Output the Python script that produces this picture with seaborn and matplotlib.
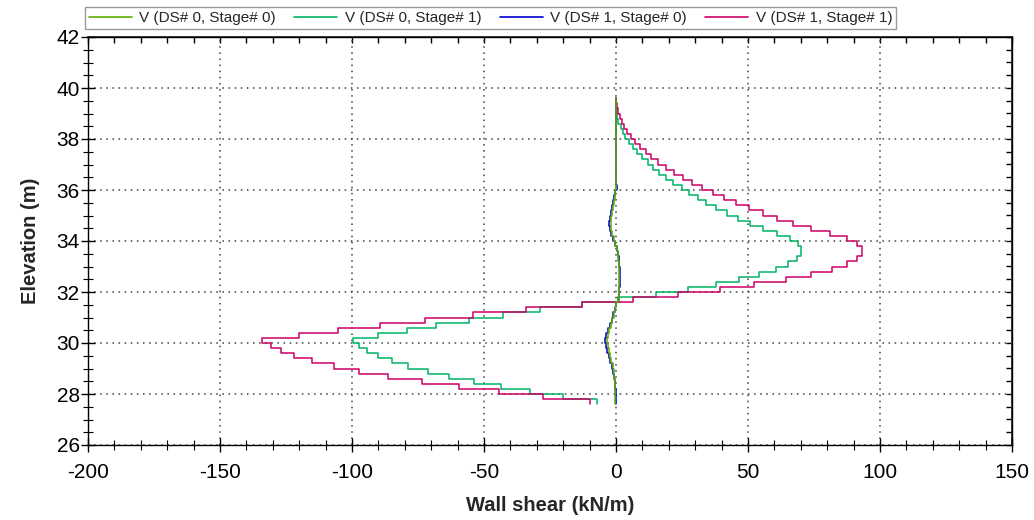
import numpy as np
import pandas as pd
import matplotlib
matplotlib.use("Agg")
import matplotlib.pyplot as plt
import seaborn as sns

# Elevation nodes (m), top of wall to toe; each curve has one shear value per interval
elev_nodes = [39.6, 39.4, 39.2, 39.0, 38.8, 38.6, 38.4, 38.2, 38.0, 37.8,
              37.6, 37.4, 37.2, 37.0, 36.8, 36.6, 36.4, 36.2, 36.0, 35.8,
              35.6, 35.4, 35.2, 35.0, 34.8, 34.6, 34.4, 34.2, 34.0, 33.8,
              33.6, 33.4, 33.2, 33.0, 32.8, 32.6, 32.4, 32.2, 32.0, 31.8,
              31.6, 31.4, 31.2, 31.0, 30.8, 30.6, 30.4, 30.2, 30.0, 29.8,
              29.6, 29.4, 29.2, 29.0, 28.8, 28.6, 28.4, 28.2, 28.0, 27.8,
              27.6]

# Wall shear (kN/m) per interval
v_ds0_st0 = [0.0, 0.0, 0.0, 0.0, 0.0, 0.0, 0.0, 0.0, 0.0, 0.0,
             0.0, 0.0, 0.0, 0.0, 0.0, 0.0, 0.0, 0.0, -0.2, -0.5,
             -0.9, -1.2, -1.5, -1.8, -2.0, -1.8, -1.4, -0.9, -0.3, 0.2,
             0.6, 0.9, 1.1, 1.2, 1.3, 1.3, 1.3, 1.2, 1.0, 0.6,
             0.1, -0.4, -0.9, -1.4, -2.0, -2.6, -3.1, -3.4, -3.2, -2.8,
             -2.3, -1.8, -1.3, -0.9, -0.6, -0.4, -0.3, -0.2, -0.2, -0.2]

v_ds0_st1 = [0.0, 0.0, 0.25, 0.5, 0.9, 1.8, 2.6, 3.4, 5.1, 6.6,
             8.1, 10.0, 12.3, 14.1, 16.4, 18.9, 21.7, 24.9, 27.8, 30.9,
             34.1, 37.9, 41.9, 46.1, 50.8, 55.6, 61.1, 65.9, 68.8, 70.0,
             70.0, 68.4, 65.3, 60.6, 54.3, 46.7, 37.7, 27.4, 15.2, 1.0,
             -13.0, -28.8, -42.7, -55.6, -68.2, -79.3, -90.0, -99.5, -97.2, -94.4,
             -90.0, -85.0, -78.7, -71.3, -63.1, -53.7, -43.6, -32.6, -20.0, -7.3]

v_ds1_st0 = [0.0, 0.0, 0.0, 0.0, 0.0, 0.0, 0.0, 0.0, 0.0, 0.0,
             0.0, 0.0, 0.0, 0.0, 0.0, 0.0, 0.0, 0.2, -0.5, -0.8,
             -1.2, -1.6, -2.0, -2.3, -2.6, -2.4, -1.8, -1.2, -0.4, 0.3,
             0.8, 1.1, 1.3, 1.4, 1.5, 1.5, 1.4, 1.3, 1.1, 0.7,
             0.0, -0.5, -1.1, -1.7, -2.3, -3.0, -3.6, -4.0, -3.8, -3.3,
             -2.7, -2.1, -1.5, -1.0, -0.6, -0.4, -0.2, -0.1, 0.0, 0.0]

v_ds1_st1 = [0.0, 0.2, 0.6, 1.5, 2.4, 3.2, 4.0, 5.6, 7.2, 9.1,
             11.2, 13.3, 15.8, 18.9, 22.1, 25.3, 28.7, 32.4, 36.6, 41.0,
             45.5, 50.5, 55.6, 61.1, 66.9, 73.9, 81.1, 87.4, 91.2, 93.0,
             93.0, 91.2, 87.4, 81.7, 73.9, 64.4, 52.4, 39.4, 23.6, 6.3,
             -13.0, -34.0, -54.0, -72.3, -89.4, -105.2, -120.0, -134.0, -130.7, -126.9,
             -121.8, -115.0, -106.7, -97.2, -86.2, -73.4, -59.3, -44.2, -27.5, -9.8]

series_names = ["V (DS# 0, Stage# 0)", "V (DS# 0, Stage# 1)",
                "V (DS# 1, Stage# 0)", "V (DS# 1, Stage# 1)"]
series_values = [v_ds0_st0, v_ds0_st1, v_ds1_st0, v_ds1_st1]
colores = ["#5FAF00", "#00B464", "#0000CC", "#CC0066"]

# vertices en escalera: cada tramo se dibuja como segmento vertical
nodos = np.array(elev_nodes)
y_escalon = np.repeat(nodos, 2)[1:-1]
filas = []
for nombre, valores in zip(series_names, series_values):
    x_escalon = np.repeat(np.array(valores), 2)
    filas.append(pd.DataFrame({"shear": x_escalon, "elev": y_escalon, "serie": nombre}))
df = pd.concat(filas, ignore_index=True)

sns.set_theme(style="ticks")
plt.rcParams["font.family"] = ["Liberation Sans", "DejaVu Sans"]
plt.rcParams["axes.unicode_minus"] = False

fig = plt.figure(figsize=(10.34, 5.2), dpi=100)
ax = fig.add_axes([88 / 1034, 75 / 520, 924 / 1034, 408 / 520])

sns.lineplot(data=df, x="shear", y="elev", hue="serie", hue_order=series_names,
             palette=dict(zip(series_names, colores)), sort=False, estimator=None,
             linewidth=1.1, ax=ax)
# la curva DS#0 Stage#0 queda por encima de la azul, como en el original
ax.lines[0].set_zorder(3)

ax.set_xlim(-200, 150)
ax.set_ylim(26, 42)
ax.set_xticks(np.arange(-200, 151, 50))
ax.set_yticks(np.arange(26, 43, 2))
ax.set_xticks(np.arange(-200, 151, 10), minor=True)
ax.set_yticks(np.arange(26, 42.1, 0.5), minor=True)
ax.tick_params(which="major", direction="inout", length=10, width=1, labelsize=15,
               color="black", labelcolor="black")
ax.tick_params(which="minor", direction="inout", length=7, width=0.8, color="black")
ax.tick_params(axis="y", which="major", pad=1)
ax.tick_params(axis="x", which="major", pad=8)
ax.grid(True, which="major", linestyle=(0, (1, 3)), color="#404040", linewidth=1.1)

for lado in ["left", "right", "top", "bottom"]:
    ax.spines[lado].set_visible(True)
    ax.spines[lado].set_color("black")
    ax.spines[lado].set_linewidth(1)

# marcas cortas hacia dentro arriba y a la derecha
arriba = ax.secondary_xaxis("top")
arriba.set_xticks(np.arange(-200, 151, 10))
arriba.tick_params(direction="in", length=4, width=1, labeltop=False, color="black")
derecha = ax.secondary_yaxis("right")
derecha.set_yticks(np.arange(26, 42.1, 0.5))
derecha.tick_params(direction="in", length=4, width=1, labelright=False, color="black")

ax.set_xlabel("Wall shear (kN/m)", fontsize=14.5, fontweight="bold", labelpad=10)
ax.set_ylabel("Elevation (m)", fontsize=14.5, fontweight="bold", labelpad=12)

sns.move_legend(ax, "lower left", bbox_to_anchor=(-0.003, 1.02), ncol=4, title=None,
                frameon=True, fontsize=11, borderaxespad=0, borderpad=0.25,
                handlelength=2.8, handletextpad=0.5, columnspacing=1.2)
leg = ax.get_legend()
leg.get_frame().set_edgecolor("#808080")
leg.get_frame().set_linewidth(1)
leg.get_frame().set_boxstyle("square", pad=0)
for linea in leg.get_lines():
    linea.set_linewidth(1.2)

fig.savefig("out.png", dpi=100)
